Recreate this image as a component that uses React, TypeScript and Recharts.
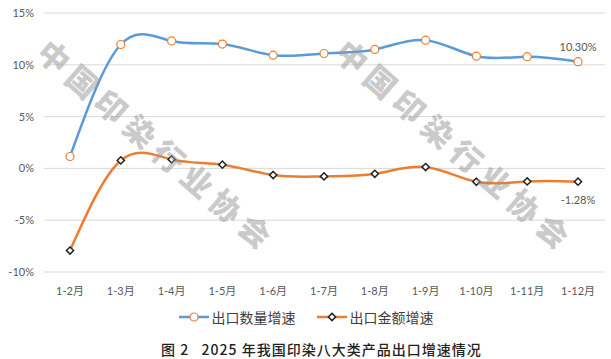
import React from "react";
import { LineChart, Line, XAxis, YAxis, CartesianGrid, LabelList } from "recharts";

const categories = ["1-2月", "1-3月", "1-4月", "1-5月", "1-6月", "1-7月", "1-8月", "1-9月", "1-10月", "1-11月", "1-12月"];
const quantityGrowth = [1.15, 11.96, 12.3, 12.0, 10.93, 11.09, 11.48, 12.38, 10.83, 10.78, 10.3];
const valueGrowth = [-7.93, 0.77, 0.87, 0.36, -0.64, -0.77, -0.52, 0.13, -1.29, -1.26, -1.28];
const yTicks = [-10, -5, 0, 5, 10, 15];
const seriesNames = ["出口数量增速", "出口金额增速"];
const caption = "图 2\u00a0\u00a0\u00a02025 年我国印染八大类产品出口增速情况";
const watermark = "中国印染行业协会";

const data = categories.map((c, i) => ({ cat: c, q: quantityGrowth[i], v: valueGrowth[i] }));

const BLUE = "#5b9bd5";
const ORANGE = "#ed7d31";
const FONT = "Lato, 'Noto Sans CJK SC', sans-serif";

const CircleDot = (props: any) => {
  const { cx, cy } = props;
  if (cx == null || cy == null) return null;
  return <circle cx={cx} cy={cy} r={4} fill="#fff" stroke={ORANGE} strokeWidth={1.2} />;
};
const DiamondDot = (props: any) => {
  const { cx, cy } = props;
  if (cx == null || cy == null) return null;
  const s = 3.6;
  return (
    <path
      d={`M${cx},${cy - s}L${cx + s},${cy}L${cx},${cy + s}L${cx - s},${cy}Z`}
      fill="#fff"
      stroke="#222"
      strokeWidth={1.5}
    />
  );
};

const lastLabel = (dy: number) => (props: any) => {
  const { x, y, value, index } = props;
  if (index !== categories.length - 1) return null;
  return (
    <text x={x} y={y + dy} textAnchor="middle" fontSize={11} fill="#595959" fontFamily={FONT}>
      {Number(value).toFixed(2)}%
    </text>
  );
};

export default function App() {
  return (
    <div style={{ position: "absolute", left: 0, top: 0, width: 611, height: 359, background: "#fff", fontFamily: FONT }}>
      <LineChart width={611} height={300} data={data} margin={{ top: 13, right: 6, left: 0, bottom: 0 }}>
        <CartesianGrid vertical={false} stroke="#d9d9d9" />
        <XAxis
          dataKey="cat"
          axisLine={false}
          tickLine={false}
          tickMargin={9}
          height={28}
          interval={0}
          padding={{ left: 26, right: 27 }}
          tick={{ fontSize: 11, fill: "#595959", fontFamily: FONT }}
        />
        <YAxis
          domain={[-10, 15]}
          ticks={yTicks}
          width={44}
          axisLine={false}
          tickLine={false}
          tickMargin={4}
          tickFormatter={(v: number) => `${v}%`}
          tick={{ fontSize: 11, fill: "#595959", fontFamily: FONT }}
        />
        <Line
          type="natural"
          dataKey="q"
          stroke={BLUE}
          strokeWidth={2.5}
          dot={<CircleDot />}
          isAnimationActive={false}
        >
          <LabelList dataKey="q" content={lastLabel(-11)} />
        </Line>
        <Line
          type="natural"
          dataKey="v"
          stroke={ORANGE}
          strokeWidth={2.5}
          dot={<DiamondDot />}
          isAnimationActive={false}
        >
          <LabelList dataKey="v" content={lastLabel(22)} />
        </Line>
      </LineChart>

      {[{ x: 158, y: 145 }, { x: 456, y: 145 }].map((p, i) => (
        <div
          key={i}
          style={{
            position: "absolute",
            left: p.x,
            top: p.y,
            transform: "translate(-50%, -50%) rotate(41deg)",
            fontSize: 31,
            fontWeight: 900,
            letterSpacing: 7,
            color: "rgba(150,150,150,0.5)",
            whiteSpace: "nowrap",
            fontFamily: "'Noto Sans CJK SC', sans-serif",
            pointerEvents: "none",
            lineHeight: 1,
          }}
        >
          {watermark}
        </div>
      ))}

      <div style={{ position: "absolute", top: 307, left: 0, width: 611, display: "flex", justifyContent: "center", alignItems: "center", fontSize: 14, color: "#404040", fontFamily: "'Noto Sans CJK SC', sans-serif" }}>
        <svg width={32} height={18} style={{ marginRight: 2 }}>
          <line x1={1} y1={9} x2={31} y2={9} stroke={BLUE} strokeWidth={2.5} />
          <circle cx={16} cy={9} r={4} fill="#fff" stroke={ORANGE} strokeWidth={1.2} />
        </svg>
        <span style={{ marginRight: 20 }}>{seriesNames[0]}</span>
        <svg width={32} height={18} style={{ marginRight: 2 }}>
          <line x1={1} y1={9} x2={31} y2={9} stroke={ORANGE} strokeWidth={2.5} />
          <path d="M16,5.4L19.6,9L16,12.6L12.4,9Z" fill="#fff" stroke="#222" strokeWidth={1.5} />
        </svg>
        <span>{seriesNames[1]}</span>
      </div>

      <div style={{ position: "absolute", top: 339, left: 161, whiteSpace: "nowrap", fontSize: 14, letterSpacing: 1, fontWeight: 500, color: "#222", fontFamily: "'Noto Sans CJK SC', serif" }}>
        {caption}
      </div>
    </div>
  );
}
